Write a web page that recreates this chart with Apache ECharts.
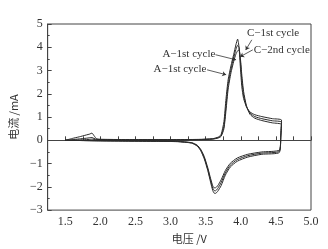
<!DOCTYPE html>
<html>
<head>
<meta charset="utf-8">
<script src="https://cdn.jsdelivr.net/npm/echarts@6/dist/echarts.min.js"></script>
<style>
html, body { margin: 0; padding: 0; background: #fff; }
#main { width: 328px; height: 249px; }
</style>
</head>
<body>
<div id="main"></div>
<script>
// 正扫（氧化）电压
var fwdV = [1.5, 1.6, 1.7, 1.8, 1.85, 1.88, 1.91, 1.95, 2.1, 2.5, 3.0, 3.4, 3.6, 3.68, 3.72, 3.76, 3.79, 3.82, 3.86, 3.9, 3.93, 3.955, 3.975, 3.995, 4.015, 4.04, 4.08, 4.13, 4.2, 4.3, 4.45, 4.58];
var fwdI1 = [0, 0.08, 0.15, 0.23, 0.27, 0.31, 0.2, 0.06, 0.04, 0.03, 0.03, 0.04, 0.07, 0.14, 0.25, 0.8, 1.8, 2.6, 3.2, 3.7, 4.1, 4.35, 4.0, 3.1, 2.3, 1.8, 1.45, 1.22, 1.1, 1.02, 0.93, 0.87];
var fwdI2 = [0, 0.03, 0.06, 0.09, 0.11, 0.12, 0.08, 0.04, 0.03, 0.02, 0.02, 0.03, 0.06, 0.12, 0.2, 0.6, 1.5, 2.4, 3.05, 3.55, 3.9, 4.08, 4.0, 3.4, 2.6, 1.95, 1.45, 1.18, 1.02, 0.93, 0.84, 0.78];
var fwdI3 = [0, 0.01, 0.02, 0.03, 0.04, 0.05, 0.04, 0.03, 0.02, 0.02, 0.02, 0.03, 0.05, 0.1, 0.17, 0.5, 1.3, 2.2, 2.9, 3.4, 3.7, 3.85, 3.88, 3.5, 2.8, 2.1, 1.5, 1.12, 0.95, 0.85, 0.75, 0.68];
// 反扫（还原）电压
var revV = [4.58, 4.57, 4.55, 4.3, 4.1, 3.95, 3.85, 3.78, 3.72, 3.67, 3.64, 3.62, 3.6, 3.57, 3.53, 3.48, 3.43, 3.38, 3.3, 3.1, 2.8, 2.4, 2.0, 1.5];
var revI1 = [0.87, 0.3, -0.52, -0.6, -0.72, -0.9, -1.15, -1.5, -1.95, -2.2, -2.28, -2.27, -2.15, -1.8, -1.3, -0.8, -0.45, -0.25, -0.12, -0.06, -0.04, -0.03, -0.02, 0];
var revI2 = [0.78, 0.2, -0.47, -0.55, -0.66, -0.83, -1.07, -1.4, -1.82, -2.08, -2.17, -2.16, -2.05, -1.72, -1.24, -0.75, -0.42, -0.23, -0.11, -0.05, -0.04, -0.03, -0.02, 0];
var revI3 = [0.68, 0.1, -0.42, -0.5, -0.6, -0.76, -0.99, -1.3, -1.7, -1.96, -2.04, -2.04, -1.95, -1.64, -1.18, -0.7, -0.39, -0.21, -0.1, -0.05, -0.04, -0.03, -0.02, 0];

// 标注：文字位置、箭头起点、箭头终点（数据坐标）
var noteText = ['C\u22121st cycle', 'C\u22122nd cycle', 'A\u22121st cycle', 'A\u22121st cycle'];
var notePos = [[4.087, 4.62], [4.185, 3.89], [3.638, 3.72], [3.511, 3.07]];
var noteAlign = ['left', 'left', 'right', 'right'];
var arrowFrom = [[4.157, 4.32], [4.171, 3.89], [3.64, 3.68], [3.52, 3.03]];
var arrowTo = [[4.07, 3.88], [3.99, 3.59], [3.933, 3.46], [3.792, 2.82]];

var serif = '"Liberation Serif", "DejaVu Serif", serif';

function pairs(v, i) {
	return v.map(function (x, k) { return [x, i[k]]; });
}
function cycle(fi, ri) {
	return pairs(fwdV, fi).concat(pairs(revV, ri));
}

var cycles = [cycle(fwdI1, revI1), cycle(fwdI2, revI2), cycle(fwdI3, revI3)];

var myChart = echarts.init(document.getElementById('main'));

var series = cycles.map(function (d) {
	return {
		type: 'line',
		data: d,
		showSymbol: false,
		smooth: 0.2,
		lineStyle: { color: '#2a2a2a', width: 1 },
		silent: true
	};
});

series.push({
	type: 'line',
	data: [],
	silent: true,
	markLine: {
		silent: true,
		symbol: ['none', 'arrow'],
		symbolSize: 4,
		lineStyle: { color: '#333', width: 0.8, type: 'solid' },
		label: { show: false },
		data: arrowFrom.map(function (p, k) {
			return [{ coord: p }, { coord: arrowTo[k] }];
		})
	}
});

var option = {
	animation: false,
	grid: {
		left: 44, right: 17, top: 24, bottom: 38,
		show: true, borderColor: '#444', borderWidth: 1
	},
	xAxis: {
		type: 'value',
		min: 1.25, max: 5.0, interval: 0.25,
		name: '电压 /V',
		nameLocation: 'middle',
		nameGap: 22,
		nameTextStyle: { fontFamily: '"Noto Sans CJK SC"', fontSize: 11, color: '#333', padding: [0, 0, 0, 20] },
		axisLine: { lineStyle: { color: '#444' } },
		axisTick: { inside: true, length: 4, lineStyle: { color: '#444' } },
		splitLine: { show: false },
		axisLabel: {
			fontFamily: serif, fontSize: 12, color: '#333', margin: 6,
			showMaxLabel: true, showMinLabel: true,
			formatter: function (v) {
				return Math.abs(v * 2 - Math.round(v * 2)) < 1e-6 ? v.toFixed(1) : '';
			}
		}
	},
	yAxis: {
		type: 'value',
		min: -3, max: 5, interval: 1,
		name: '电流 /mA',
		nameLocation: 'middle',
		nameGap: 26,
		nameRotate: 90,
		nameTextStyle: { fontFamily: '"Noto Sans CJK SC"', fontSize: 11, color: '#333' },
		axisLine: { lineStyle: { color: '#444' } },
		axisTick: { inside: true, length: 4, lineStyle: { color: '#444' } },
		minorTick: { show: true, splitNumber: 2, length: 2, lineStyle: { color: '#444' } },
		splitLine: { show: false },
		axisLabel: {
			fontFamily: serif, fontSize: 12, color: '#333', margin: 5,
			formatter: function (v) { return String(v).replace('-', '\u2212'); }
		}
	},
	series: series
};

myChart.setOption(option);

// 标注文字
myChart.setOption({
	graphic: noteText.map(function (t, k) {
		var p = myChart.convertToPixel({ gridIndex: 0 }, notePos[k]);
		return {
			type: 'text',
			x: p[0], y: p[1],
			silent: true,
			style: {
				text: t,
				font: '11px ' + serif,
				fill: '#333',
				align: noteAlign[k],
				verticalAlign: 'middle'
			}
		};
	})
});
</script>
</body>
</html>
